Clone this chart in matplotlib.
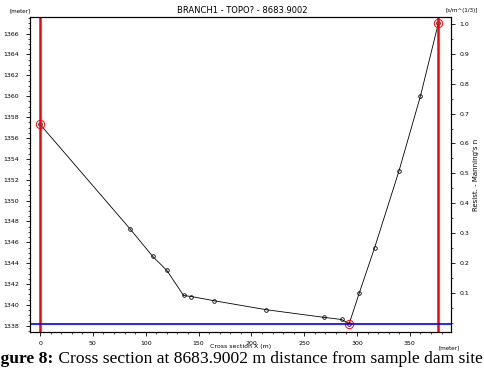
import numpy as np
import matplotlib
matplotlib.use("Agg")
import matplotlib.pyplot as plt
import matplotlib.ticker as ticker

# cross section points
xs = [0, 85, 106.6, 120, 135.8, 143.3, 164.6, 213.9, 269, 285.3, 292.6, 302, 316.7, 339.6, 360, 377]
zs = [1357.3, 1347.3, 1344.65, 1343.3, 1340.9, 1340.8, 1340.4, 1339.54, 1338.8, 1338.6,
      1338.2, 1341.1, 1345.5, 1352.8, 1360.0, 1367.0]
marked = [0, 10, 15]  # red circled points
left_bank = 0
right_bank = 377
water_level = 1338.2

title = "BRANCH1 - TOPO? - 8683.9002"
caption_bold = "Figure 8:"
caption = " Cross section at 8683.9002 m distance from sample dam site"

fig = plt.figure(figsize=(4.85, 3.72), dpi=100)
ax = fig.add_axes([0.062, 0.1075, 0.868, 0.847])

ax.plot(xs, zs, color="black", lw=0.6, marker="o", ms=2.6, mfc="none", mew=0.6)
mx = [xs[i] for i in marked]
mz = [zs[i] for i in marked]
ax.plot(mx, mz, ls="none", marker="o", ms=6, mfc="none", mec="red", mew=0.7)
ax.axvline(left_bank, color="red", lw=1.8)
ax.axvline(right_bank, color="red", lw=1.8)
ax.axhline(water_level, color="blue", lw=1.2)

ax.set_xlim(-9.5, 389)
ax.set_ylim(1337.4, 1367.6)
ax.xaxis.set_major_locator(ticker.MultipleLocator(50))
ax.xaxis.set_minor_locator(ticker.MultipleLocator(10))
ax.yaxis.set_major_locator(ticker.MultipleLocator(2))
ax.yaxis.set_minor_locator(ticker.MultipleLocator(0.5))
ax.tick_params(labelsize=4.5, length=3, width=0.6, pad=5)
ax.tick_params(axis="x", pad=3.5)
ax.tick_params(which="minor", length=1.5, width=0.5)
ax.set_xlabel("Cross section X (m)", fontsize=4.5, labelpad=-1.5)
ax.set_ylabel("Water level", fontsize=4.5, labelpad=1.5)

ax2 = ax.twinx()
ax2.set_ylim(-0.03, 1.023)
ax2.yaxis.set_minor_locator(ticker.MultipleLocator(0.05))
ax2.set_yticks(np.round(np.arange(0.1, 1.01, 0.1), 1))
ax2.tick_params(labelsize=4.5, length=3, width=0.6, pad=3)
ax2.tick_params(which="minor", length=1.5, width=0.5)
ax2.set_ylabel("Resist. - Manning's n", fontsize=5, labelpad=3)
for a in (ax, ax2):
    for s in a.spines.values():
        s.set_linewidth(0.8)

fig.text(0.5, 0.972, title, ha="center", va="center", fontsize=6)
fig.text(0.02, 0.972, "[meter]", ha="left", va="center", fontsize=4)
fig.text(0.918, 0.972, "[s/m^(1/3)]", ha="left", va="center", fontsize=4)
fig.text(0.905, 0.066, "[meter]", ha="left", va="center", fontsize=4)

cap = fig.text(-0.03, 0.036, caption_bold, ha="left", va="center", fontsize=12.6,
               family="Liberation Serif", weight="bold")
fig.canvas.draw()
bb = cap.get_window_extent().transformed(fig.transFigure.inverted())
fig.text(bb.x1, 0.036, caption, ha="left", va="center", fontsize=12.6,
         family="Liberation Serif")

fig.savefig("out.png", dpi=100)
